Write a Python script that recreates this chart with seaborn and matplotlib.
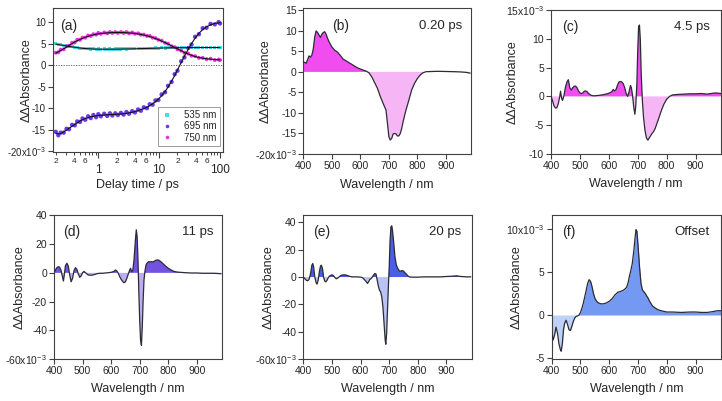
import numpy as np
import pandas as pd
import matplotlib
matplotlib.use("Agg")
import matplotlib.pyplot as plt
import seaborn as sns
from matplotlib.ticker import FixedLocator, FixedFormatter
from matplotlib.lines import Line2D

# ---------------- data (values in units of 1e-3) ----------------
delay_ps = [0.20, 0.22, 0.24, 0.27, 0.30, 0.33, 0.37, 0.41, 0.45, 0.50,
            0.55, 0.61, 0.68, 0.75, 0.83, 0.92, 1.0, 1.1, 1.25, 1.4,
            1.55, 1.7, 1.9, 2.1, 2.35, 2.6, 2.9, 3.2, 3.6, 4.0,
            4.5, 5.0, 5.6, 6.3, 7.0, 7.8, 8.7, 9.7, 11, 12.5,
            14, 16, 18, 20, 23, 26, 30, 34, 39, 45,
            52, 60, 70, 82, 95, 100]

k535_data = [4.95, 4.75, 4.75, 4.5, 4.5, 4.3, 4.3, 4.1, 4.1, 3.95,
             3.95, 3.85, 3.85, 3.75, 3.8, 3.7, 3.75, 3.7, 3.75, 3.7,
             3.75, 3.7, 3.75, 3.75, 3.75, 3.8, 3.75, 3.8, 3.8, 3.85,
             3.85, 3.85, 3.9, 3.9, 3.95, 3.9, 4.0, 3.95, 4.05, 4.0,
             4.05, 4.05, 4.1, 4.05, 4.1, 4.1, 4.15, 4.1, 4.1, 4.15,
             4.1, 4.15, 4.1, 4.15, 4.1, 4.1]
k535_fit = [4.9, 4.8, 4.7, 4.58, 4.47, 4.37, 4.26, 4.17, 4.08, 4.0,
            3.93, 3.87, 3.82, 3.79, 3.76, 3.74, 3.73, 3.72, 3.72, 3.72,
            3.72, 3.73, 3.73, 3.74, 3.75, 3.76, 3.77, 3.78, 3.8, 3.81,
            3.83, 3.85, 3.87, 3.89, 3.91, 3.93, 3.95, 3.97, 3.99, 4.01,
            4.02, 4.04, 4.05, 4.06, 4.07, 4.08, 4.08, 4.09, 4.09, 4.09,
            4.1, 4.1, 4.1, 4.1, 4.1, 4.1]

k695_data = [-15.5, -16.3, -15.7, -15.7, -14.8, -14.9, -13.9, -14.0, -13.1, -13.2,
             -12.4, -12.7, -11.9, -12.3, -11.6, -12.1, -11.4, -11.9, -11.3, -11.8,
             -11.2, -11.7, -11.2, -11.6, -11.1, -11.5, -10.9, -11.3, -10.7, -11.0,
             -10.3, -10.6, -9.8, -10.0, -9.1, -9.2, -8.2, -8.1, -6.8, -6.3,
             -4.8, -3.9, -2.1, -1.3, 0.9, 1.8, 4.0, 4.8, 6.6, 7.2,
             8.6, 8.7, 9.6, 9.5, 10.0, 9.7]
k695_fit = [-15.8, -16.0, -15.9, -15.5, -15.1, -14.7, -14.2, -13.8, -13.4, -13.0,
            -12.7, -12.4, -12.2, -12.0, -11.9, -11.8, -11.7, -11.65, -11.6, -11.55,
            -11.5, -11.5, -11.45, -11.4, -11.35, -11.3, -11.2, -11.1, -10.95, -10.8,
            -10.6, -10.35, -10.1, -9.8, -9.4, -9.0, -8.5, -7.9, -7.1, -6.1,
            -5.1, -3.7, -2.4, -1.1, 0.6, 2.1, 3.7, 5.0, 6.3, 7.4,
            8.3, 8.9, 9.4, 9.7, 9.85, 9.9]

k750_data = [2.9, 3.0, 3.6, 3.7, 4.4, 4.5, 5.2, 5.3, 5.9, 5.9,
             6.4, 6.4, 6.9, 6.8, 7.2, 7.1, 7.5, 7.3, 7.6, 7.4,
             7.7, 7.5, 7.7, 7.5, 7.7, 7.5, 7.7, 7.4, 7.6, 7.3,
             7.4, 7.1, 7.1, 6.8, 6.8, 6.4, 6.3, 5.9, 5.7, 5.2,
             5.0, 4.4, 4.2, 3.7, 3.4, 2.9, 2.7, 2.2, 2.1, 1.7,
             1.7, 1.4, 1.5, 1.2, 1.3, 1.2]
k750_fit = [2.8, 3.1, 3.4, 3.8, 4.2, 4.6, 5.0, 5.4, 5.7, 6.0,
            6.25, 6.5, 6.7, 6.9, 7.05, 7.2, 7.3, 7.38, 7.45, 7.5,
            7.55, 7.58, 7.6, 7.6, 7.6, 7.58, 7.55, 7.5, 7.45, 7.38,
            7.28, 7.15, 7.0, 6.85, 6.65, 6.45, 6.2, 5.95, 5.6, 5.25,
            4.9, 4.5, 4.1, 3.8, 3.35, 2.95, 2.6, 2.3, 2.0, 1.8,
            1.6, 1.5, 1.4, 1.3, 1.25, 1.25]

kin_labels = ["535 nm", "695 nm", "750 nm"]

wl_b = [400, 405, 410, 415, 420, 425, 430, 435, 440, 445, 450, 455, 460, 465, 470, 475, 480, 485, 490,
        500, 510, 520, 530, 540, 550, 560, 570, 580, 590, 600, 610, 620, 630, 640, 650, 660, 670, 680, 690,
        695, 700, 705, 710, 715, 720, 725, 730, 735, 740, 745, 750,
        760, 770, 780, 790, 800, 810, 820, 830,
        850, 870, 900, 930, 950, 970, 985]
val_b = [2.5, 2.3, 2.1, 3.0, 3.9, 3.6, 4.1, 5.6, 8.5, 10.0, 9.6, 9.0, 8.4, 9.2, 9.6, 9.8, 9.2, 8.2, 7.4,
         6.1, 5.3, 4.8, 4.0, 3.1, 2.7, 2.25, 1.85, 1.4, 1.0, 0.7, 0.45, 0.2, -0.2, -1.2, -2.6, -4.0, -6.0, -7.7, -9.3,
         -12.5, -15.8, -16.6, -16.2, -15.1, -15.0, -15.1, -15.6, -15.6, -15.0, -13.8, -12.1,
         -9.3, -6.9, -4.4, -2.8, -1.6, -0.75, -0.2, 0.05,
         0.1, 0.15, 0.1, 0.05, 0.0, -0.1, -0.3]

wl_c = [400, 405, 410, 415, 420, 425, 430, 433, 437, 440, 445, 450, 455, 460, 465, 470, 475, 480, 485, 490,
        495, 500, 505, 510, 515, 520, 525, 530, 540, 550, 560, 570, 580, 590, 600, 610, 615, 620, 625, 630,
        635, 640, 645, 650, 655, 660, 665, 670, 675, 678, 682, 686, 690, 693, 697, 700, 703, 706, 709, 712,
        716, 720, 725, 730, 735, 740, 745, 750, 755, 760, 770, 780, 790, 800, 810, 820, 840, 860, 880, 900,
        920, 940, 960, 970, 988]
val_c = [0, -0.7, -1.6, -2.0, -2.0, -1.3, -0.1, 0.9, -0.4, -0.7, 0.2, 1.6, 2.5, 2.9, 1.5, 1.1, 1.5, 1.75, 1.8, 1.5,
         0.95, 0.6, 0.5, 0.6, 0.9, 0.95, 0.8, 0.5, 0.15, 0.1, 0.15, 0.2, 0.3, 0.4, 0.55, 0.8, 1.2, 0.95, 1.2, 1.95,
         2.5, 2.6, 2.5, 2.2, 1.5, 0.5, 0, 0.8, 1.9, 1.5, 0.2, -1.8, -3.1, -1.8, 2.2, 8.0, 12.1, 12.4, 9.8, 4.0,
         -0.7, -3.6, -5.9, -7.2, -7.6, -7.2, -6.8, -6.4, -6.1, -5.6, -4.2, -2.7, -1.4, -0.5, 0, 0.25, 0.35, 0.4, 0.45, 0.45,
         0.5, 0.4, 0.55, 0.6, 0.5]

wl_d = [400, 405, 410, 415, 420, 425, 430, 433, 436, 440, 445, 450, 455, 460, 465, 470, 475, 480, 485, 490,
        495, 500, 505, 510, 520, 530, 540, 550, 560, 570, 580, 590, 600, 610, 615, 620, 625, 630, 635, 640,
        645, 650, 655, 660, 665, 668, 672, 676, 680, 685, 688, 691, 694, 697, 700, 703, 706, 709, 712, 715,
        718, 722, 727, 732, 737, 742, 747, 752, 757, 762, 767, 772, 780, 790, 800, 810, 820, 830, 840, 860,
        880, 900, 920, 940, 960, 985]
val_d = [0, 2.0, 3.6, 4.3, 3.9, 1.5, -3.1, -5.7, -1.5, 5.0, 6.7, 4.8, -1.5, -6.2, -3.8, 1.5, 3.6, 2.5, -0.8, -3.1,
         -2.2, 0.1, 1.0, 0.1, -1.5, -1.7, -1.3, -0.6, -0.3, -0.3, -0.1, 0.1, 0.4, 1.0, 2.0, 1.3, -0.3, -2.7, -4.5, -5.9,
         -6.9, -6.2, -3.8, -0.8, 2.0, 3.2, 0.8, 2.0, 9.0, 23.0, 30.0, 25.3, 9.0, -14.3, -33.0, -47.0, -50.5, -37.6, -19.0, -5.0,
         0.8, 5.5, 7.1, 7.8, 7.6, 7.8, 7.6, 8.3, 8.8, 9.0, 8.8, 8.1, 6.7, 4.8, 3.2, 2.0, 1.0, 0.6, 0.4, 0.1,
         -0.1, -0.1, -0.3, -0.3, -0.3, -0.6]

wl_e = [400, 405, 410, 415, 420, 425, 430, 433, 436, 440, 445, 448, 452, 456, 460, 463, 467, 471, 475, 479,
        483, 487, 491, 495, 500, 505, 510, 515, 520, 525, 530, 535, 540, 545, 550, 560, 570, 580, 590, 600,
        605, 610, 615, 620, 624, 628, 632, 636, 640, 645, 650, 654, 658, 662, 666, 670, 674, 678, 682, 686,
        688, 691, 694, 697, 700, 703, 706, 709, 712, 716, 720, 725, 730, 735, 740, 745, 750, 755, 760, 765,
        770, 780, 800, 820, 850, 880, 900, 920, 935, 950, 970, 985]
val_e = [0, -1.1, -2.3, -2.8, -1.8, 2.1, 8.7, 9.9, 7.5, 0.1, -4.3, -5.2, -2.3, 3.8, 8.0, 8.7, 6.3, -0.3, -3.0, -3.5,
         -2.3, -0.6, 0.6, 1.1, 1.6, 1.1, -0.3, -1.3, -0.8, 0.1, 0.9, 1.4, 1.6, 1.6, 1.4, 0.6, 0.1, 0.1, 0.1, -0.1,
         -0.3, -1.1, -2.3, -3.5, -4.7, -3.5, -1.8, -1.3, -0.3, 1.4, 2.6, 2.1, -2.3, -6.7, -9.6, -10.9, -14.5, -21.9, -34.1, -46.3,
         -49.2, -41.4, -24.3, -7.2, 7.5, 27.0, 36.8, 37.5, 33.1, 24.6, 14.8, 8.7, 6.3, 4.5, 4.3, 4.8, 4.3, 3.1, 2.1, 0.9,
         0.1, -0.1, -0.1, 0.1, 0.1, 0.1, 0.4, 0.6, 0.9, 0.4, 0.1, 0.1]

wl_f = [400, 405, 410, 415, 420, 425, 430, 433, 437, 441, 445, 450, 455, 460, 465, 470, 475, 480, 485, 490,
        495, 500, 505, 510, 515, 520, 525, 530, 535, 540, 545, 550, 555, 560, 570, 580, 590, 600, 610, 620,
        630, 640, 650, 660, 665, 670, 675, 680, 685, 690, 693, 696, 700, 705, 710, 715, 720, 725, 730, 735,
        740, 750, 760, 770, 780, 800, 820, 850, 880, 900, 920, 940, 960, 975, 988]
val_f = [-2.1, -2.9, -2.3, -1.4, -2.1, -3.3, -4.0, -4.2, -3.3, -1.7, -0.95, -0.6, -1.1, -1.7, -1.8, -1.3, -0.75, -0.35, -0.15, -0.1,
         0, 0.3, 0.8, 1.4, 2.15, 2.9, 3.7, 4.1, 3.9, 3.3, 2.5, 1.95, 1.65, 1.45, 1.3, 1.3, 1.4, 1.6, 1.9, 2.35,
         2.65, 2.75, 2.9, 3.2, 3.7, 4.5, 5.2, 6.0, 7.4, 9.1, 9.9, 9.7, 8.0, 5.6, 3.7, 2.9, 2.7, 2.5, 2.2, 1.95,
         1.6, 1.05, 0.8, 0.6, 0.5, 0.35, 0.35, 0.3, 0.35, 0.35, 0.3, 0.3, 0.4, 0.5, 0.5]

panel_tags = ["(a)", "(b)", "(c)", "(d)", "(e)", "(f)"]
spec_times = ["0.20 ps", "4.5 ps", "11 ps", "20 ps", "Offset"]

# ---------------- style ----------------
sns.set_style("ticks")
plt.rcParams['font.family'] = ['Liberation Sans', 'DejaVu Sans']
plt.rcParams['mathtext.fontset'] = 'custom'
plt.rcParams['mathtext.rm'] = 'Liberation Sans'
plt.rcParams['mathtext.it'] = 'Liberation Sans:italic'
plt.rcParams['mathtext.bf'] = 'Liberation Sans:bold'
plt.rcParams['mathtext.default'] = 'regular'

W, H = 722, 401
fig = plt.figure(figsize=(W / 100, H / 100), dpi=100)


def px_axes(l, t, r, b):
    return fig.add_axes([l / W, 1 - b / H, (r - l) / W, (b - t) / H])


FRAME = '#404040'
LINE = '#2b2b35'
TICK_FS = 7.5
LAB_FS = 9


def style_axes(ax):
    for s in ax.spines.values():
        s.set_color(FRAME)
        s.set_linewidth(0.8)
    ax.tick_params(direction='out', length=3.5, width=0.8, color=FRAME,
                   labelsize=TICK_FS, pad=1.5)


def ylabels(ticks, sci_index):
    labs = []
    for i, v in enumerate(ticks):
        s = str(v)
        if i == sci_index:
            s = s + r"x10$^{-3}$"
        labs.append(s)
    return labs


# ---------------- panel (a) ----------------
ax = px_axes(53, 8, 223, 152)
style_axes(ax)
ax.set_xscale('log')
ax.axhline(0, color='#555555', lw=0.6, ls=(0, (1.5, 1.5)), zorder=1)
kin_colors = ['#45dcec', '#6a3de6', '#e633e0']
kin_sizes = [5, 10, 8]
kin_markers = ['s', 'o', 'o']
for dat, col, s, m, lab in zip([k535_data, k695_data, k750_data], kin_colors, kin_sizes,
                               kin_markers, kin_labels):
    sns.scatterplot(x=delay_ps, y=dat, ax=ax, color=col, s=s, marker=m,
                    edgecolor='none', linewidth=0, zorder=2, legend=False)
for fit in [k535_fit, k695_fit, k750_fit]:
    sns.lineplot(x=delay_ps, y=fit, ax=ax, color='#111111', lw=0.8, zorder=3)
ax.set_xlim(0.18, 112)
ax.set_ylim(-20.2, 13.3)
yt = [-20, -15, -10, -5, 0, 5, 10]
ax.yaxis.set_major_locator(FixedLocator(yt))
ax.yaxis.set_major_formatter(FixedFormatter(ylabels(yt, 0)))
ax.tick_params(axis='y', labelsize=7)
ax.xaxis.set_major_locator(FixedLocator([1, 10, 100]))
ax.xaxis.set_major_formatter(FixedFormatter(['1', '10', '100']))
minor = []
minor_lab = []
for dec in [0.1, 1, 10]:
    for k in range(2, 10):
        minor.append(k * dec)
        minor_lab.append(str(k) if k in (2, 4, 6) else '')
ax.xaxis.set_minor_locator(FixedLocator(minor))
ax.xaxis.set_minor_formatter(FixedFormatter(minor_lab))
ax.tick_params(axis='x', which='major', length=4, labelsize=8.5, pad=5)
ax.tick_params(axis='x', which='minor', length=2.5, width=0.7, color=FRAME,
               direction='out', labelsize=6, pad=1.5)
ax.tick_params(axis='y', which='minor', length=0)
ax.set_xlabel("Delay time / ps", fontsize=LAB_FS)
ax.set_ylabel("ΔΔAbsorbance", fontsize=LAB_FS)
ax.xaxis.set_label_coords(0.5, -0.185)
ax.xaxis.label.set_va('top')
ax.yaxis.set_label_coords(-0.12, 0.5)
ax.text(0.04, 0.875, panel_tags[0], transform=ax.transAxes, fontsize=10,
        va='center', ha='left')
handles = [Line2D([], [], ls='none', marker=m, color=c, markersize=2.6, markeredgewidth=0)
           for c, m in zip(kin_colors, kin_markers)]
leg = ax.legend(handles, kin_labels, loc='lower right', bbox_to_anchor=(0.985, 0.04),
                fontsize=7, frameon=True, fancybox=False, borderaxespad=0,
                handlelength=1.2, handletextpad=1.2, labelspacing=0.15,
                borderpad=0.35)
leg.get_frame().set_edgecolor('#707070')
leg.get_frame().set_linewidth(0.6)

# ---------------- spectra panels ----------------
specs = [
    # (rect, wl, val, pos, neg, ylim, yticks, sci_index, tagx, timex, ylabx)
    ((303.3, 8.3, 471, 154), wl_b, val_b, '#f04cf0', '#f6b6f6', (-20, 15.5),
     [-20, -15, -10, -5, 0, 5, 10, 15], 0, 0.17, 0.945, -0.19),
    ((551, 10, 721, 154), wl_c, val_c, '#f04cf0', '#f6b6f6', (-10, 15),
     [-10, -5, 0, 5, 10, 15], 5, 0.063, 0.935, -0.19),
    ((54, 215, 222, 359), wl_d, val_d, '#7452e0', '#bdacf0', (-60, 40.3),
     [-60, -40, -20, 0, 20, 40], 0, 0.055, 0.948, -0.17),
    ((303.3, 215, 471.7, 359), wl_e, val_e, '#4a5ee8', '#b9c3f5', (-60, 45.4),
     [-60, -40, -20, 0, 20, 40], 0, 0.056, 0.94, -0.17),
    ((551.7, 215, 721, 359), wl_f, val_f, '#7499f2', '#bed2f8', (-5.1, 11.6),
     [-5, 0, 5, 10], 3, 0.059, 0.935, -0.17),
]

for i, (rect, wl, val, pos, neg, ylim, yt, si, tagx, timex, ylabx) in enumerate(specs):
    ax = px_axes(*rect)
    style_axes(ax)
    df = pd.DataFrame({'wl': wl, 'v': val})
    w = df['wl'].to_numpy(dtype=float)
    v = df['v'].to_numpy(dtype=float)
    ax.fill_between(w, v, 0, where=v >= 0, interpolate=True, color=pos, lw=0, zorder=1)
    ax.fill_between(w, v, 0, where=v <= 0, interpolate=True, color=neg, lw=0, zorder=1)
    sns.lineplot(data=df, x='wl', y='v', ax=ax, color=LINE, lw=0.9, zorder=3)
    ax.set_xlim(400, 988)
    ax.set_ylim(*ylim)
    ax.xaxis.set_major_locator(FixedLocator([400, 500, 600, 700, 800, 900]))
    ax.yaxis.set_major_locator(FixedLocator(yt))
    ax.yaxis.set_major_formatter(FixedFormatter(ylabels(yt, si)))
    ax.set_xlabel("Wavelength / nm", fontsize=LAB_FS)
    ax.set_ylabel("ΔΔAbsorbance", fontsize=LAB_FS)
    ax.xaxis.set_label_coords(0.5, -0.17)
    ax.xaxis.label.set_va('top')
    ax.yaxis.set_label_coords(ylabx, 0.5)
    ax.text(tagx, 0.88, panel_tags[i + 1], transform=ax.transAxes, fontsize=10,
            va='center', ha='left')
    ax.text(timex, 0.88, spec_times[i], transform=ax.transAxes, fontsize=9.5,
            va='center', ha='right')

fig.savefig("out.png", dpi=100)
